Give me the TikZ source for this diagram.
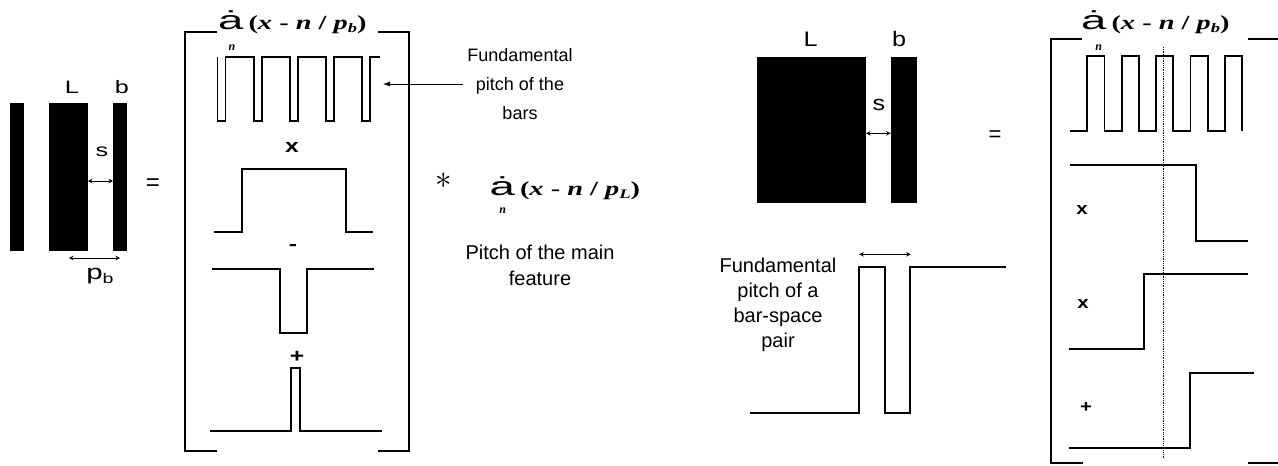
\documentclass[tikz,border=0pt]{standalone}
\usepackage{fontspec}
\usepackage{graphicx}
\setmainfont{Liberation Sans}
\newfontfamily\tmsfont{Liberation Serif}
\usetikzlibrary{arrows.meta}

\begin{document}
\begin{tikzpicture}[
  x=1pt, y=-1pt,
  wave/.style={line width=1.8pt, line join=miter},
  brk/.style={line width=2.2pt},
  blk/.style={fill=black},
  darr/.style={{Stealth[length=4.5pt,width=4.5pt]}-{Stealth[length=4.5pt,width=4.5pt]}, line width=0.8pt},
  parr/.style={-{Latex[length=7pt,width=5pt]}, line width=0.8pt},
  lbl/.style={inner sep=0pt, font=\fontsize{18}{18}\selectfont},
  biglbl/.style={inner sep=0pt, font=\fontsize{21}{21}\selectfont},
  opl/.style={inner sep=0pt, font=\bfseries\fontsize{19}{19}\selectfont},
  ops/.style={inner sep=0pt, font=\bfseries\fontsize{17}{17}\selectfont},
  note/.style={align=center, inner sep=4pt},
  subn/.style={inner sep=0pt, font=\tmsfont\bfseries\itshape\fontsize{12}{12}\selectfont}
]
\newcommand{\sx}[2]{\scalebox{#1}[1]{#2}}
\newcommand{\sumsym}{\sx{1.75}{\fontsize{26}{26}\selectfont ȧ}}
\newcommand{\argpart}[1]{\hspace{5pt}\sx{1.42}{\tmsfont\bfseries\fontsize{20}{20}\selectfont
  (\textit{x} - \textit{n} / \textit{p}\raisebox{-3pt}{\fontsize{13}{13}\selectfont\textit{#1}})}}
\useasboundingbox (0,0) rectangle (1278,466);

% left: three bars
\fill[blk] (10,103) rectangle (24,251);
\fill[blk] (49,103) rectangle (88,251);
\fill[blk] (113,103) rectangle (127,251);
\node[lbl] (lL) at (72,87) {\sx{1.4}{L}};
\node[lbl] (lb) at (122,87) {\sx{1.4}{b}};
\node[lbl] (ls) at (102,152) {\sx{1.4}{s}};
\node[lbl] (lpb) at (100,276) {\sx{1.4}{\fontsize{21}{21}\selectfont p\raisebox{-4pt}{\fontsize{14}{14}\selectfont b}}};
\coordinate (sl) at (88,181);
\coordinate (sr) at (113,181);
\draw[darr] (sl) -- (sr);
\coordinate (pl) at (69,258);
\coordinate (pr) at (120,258);
\draw[darr] (pl) -- (pr);
\node[lbl, font=\fontsize{24}{24}\selectfont] (eq1) at (153,185) {=};

% first bracket
\draw[brk] (217,32) -- (185,32) -- (185,451) -- (217,451);
\draw[brk] (378,32) -- (409,32) -- (409,451) -- (378,451);
\node[inner sep=0pt, anchor=base west] (sumb) at (218,29) {\sumsym\argpart{b}};
\node[subn] (nb) at (232,48) {n};

% comb of the bars
\draw[wave] (217.5,57) -- ++(0,64) -- ++(8,0) -- ++(0,-64)
  \foreach \k in {1,...,4}{ -- ++(28.2,0) -- ++(0,64) -- ++(8,0) -- ++(0,-64)}
  -- ++(10,0);
\node[opl] (op1) at (292,147) {\sx{1.3}{x}};
\draw[wave] (214,231.7) -- (241.7,231.7) -- (241.7,169) -- (345.7,169)
  -- (345.7,231.7) -- (372.7,231.7);
\node[opl] (op2) at (293,247) {\sx{1.3}{-}};
\draw[wave] (212,269.3) -- (279.7,269.3) -- (279.7,332.7) -- (306.7,332.7)
  -- (306.7,269.3) -- (374.3,269.3);
\node[opl] (op3) at (297,357) {\sx{1.3}{+}};
\draw[wave] (210,430.7) -- (290.7,430.7) -- (290.7,368.3) -- (300.3,368.3)
  -- (300.3,430.7) -- (381.7,430.7);

% notes in the middle
\node[note, font=\fontsize{18}{29}\selectfont] (fpb) at (520,84)
  {Fundamental\\pitch of the\\bars};
\coordinate (combtip) at (383,84);
\draw[parr] (fpb.west) -- (combtip);
\node[inner sep=0pt] (conv) at (444,181) {\scalebox{3.3}{$\ast$}};
\node[inner sep=0pt, anchor=base west] (suml) at (489.5,195) {\sumsym\argpart{L}};
\node[subn] (nl) at (502.7,211) {n};
\node[note, font=\fontsize{20}{26}\selectfont] (pmf) at (540,265)
  {Pitch of the main\\feature};

% right: bar-space pair
\fill[blk] (756.7,56.7) rectangle (866,203.3);
\fill[blk] (890.7,56.7) rectangle (916.7,203.3);
\node[biglbl] (rL) at (810.7,39) {\sx{1.2}{L}};
\node[biglbl] (rb) at (899,39) {\sx{1.2}{b}};
\node[biglbl] (rs) at (879,105) {\sx{1.2}{s}};
\coordinate (rsl) at (866,133.3);
\coordinate (rsr) at (890.7,133.3);
\draw[darr] (rsl) -- (rsr);
\node[lbl, font=\fontsize{22}{22}\selectfont] (eq2) at (995,136) {=};

\node[note, font=\fontsize{20}{25}\selectfont] (fpp) at (778,305)
  {Fundamental\\pitch of a\\bar-space\\pair};
\draw[wave] (750,413.3) -- (859,413.3) -- (859,266.7) -- (884.7,266.7)
  -- (884.7,413.3) -- (910,413.3) -- (910,266.7) -- (1005.7,266.7);
\coordinate (ppl) at (859.3,254.3);
\coordinate (ppr) at (910.7,254.3);
\draw[darr] (ppl) -- (ppr);

% second bracket
\draw[brk] (1082,39) -- (1051,39) -- (1051,463) -- (1083,463);
\draw[brk] (1248,39) -- (1278,39);
\draw[brk] (1248,463) -- (1278,463);
\node[inner sep=0pt, anchor=base west] (sumr) at (1081,29) {\sumsym\argpart{b}};
\node[subn] (nr) at (1098.7,48) {n};

\draw[wave] (1070,130.7) -- ++(17.3,0) -- ++(0,-74.7) -- ++(17.2,0) -- ++(0,74.7)
  \foreach \k in {1,...,4}{ -- ++(17.2,0) -- ++(0,-74.7) -- ++(17.2,0) -- ++(0,74.7)};
\draw[densely dotted, line width=0.8pt] (1163.3,47) -- (1163.3,458);
\draw[wave] (1070,165) -- (1196,165) -- (1196,240.7) -- (1248.3,240.7);
\node[ops] (rx1) at (1082,210) {\sx{1.2}{x}};
\draw[wave] (1069,349.3) -- (1144,349.3) -- (1144,274.3) -- (1248,274.3);
\node[ops] (rx2) at (1083,304) {\sx{1.2}{x}};
\draw[wave] (1069,447.7) -- (1190,447.7) -- (1190,372.7) -- (1254,372.7);
\node[ops] (rx3) at (1086,408) {\sx{1.2}{+}};
\end{tikzpicture}
\end{document}
